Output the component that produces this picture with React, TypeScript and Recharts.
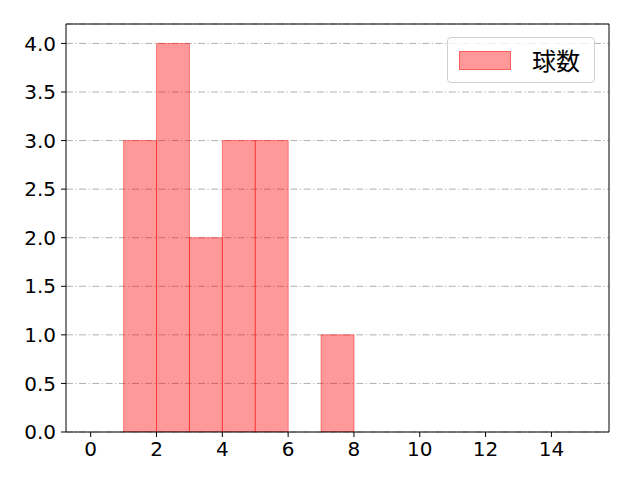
import { ComposedChart, Bar, XAxis, YAxis, CartesianGrid, ReferenceLine } from 'recharts';

const binCenters = [1.5, 2.5, 3.5, 4.5, 5.5, 6.5, 7.5];
const pitchCounts = [3, 4, 2, 3, 3, 0, 1];
const xTicks = [0, 2, 4, 6, 8, 10, 12, 14];
const yTicks = [0, 0.5, 1, 1.5, 2, 2.5, 3, 3.5, 4];
const seriesName = '球数';

const data = binCenters.map((x, i) => ({ x, count: pitchCounts[i] }));

const TICK_FONT = '"DejaVu Sans", sans-serif';
const CJK_FONT = '"Noto Sans CJK JP", sans-serif';
const X_DOMAIN = [-0.75, 15.75];
const Y_DOMAIN = [0, 4.2];

const LegendBox = () => (
  <div
    style={{
      position: 'absolute',
      left: 447,
      top: 37,
      width: 148,
      height: 46,
      border: '1px solid #d0d0d0',
      borderRadius: 4,
      background: 'rgba(255,255,255,0.8)',
      display: 'flex',
      alignItems: 'center',
      boxSizing: 'border-box',
    }}
  >
    <div
      style={{
        width: 52,
        height: 19,
        marginLeft: 11,
        background: 'rgba(255,0,0,0.4)',
        border: '1px solid rgba(255,0,0,0.4)',
        boxSizing: 'border-box',
      }}
    />
    <span style={{ marginLeft: 21, fontSize: 24, lineHeight: '24px', color: '#000', fontFamily: CJK_FONT }}>
      {seriesName}
    </span>
  </div>
);

const App = () => {
  return (
    <div style={{ position: 'absolute', left: 0, top: 0, width: 640, height: 480, background: '#fff' }}>
      <ComposedChart
        width={640}
        height={480}
        data={data}
        margin={{ top: 24, right: 31, left: 0, bottom: 0 }}
        barCategoryGap={0}
        barGap={0}
      >
        <CartesianGrid
          horizontal
          vertical={false}
          stroke="#b0b0b0"
          strokeDasharray="7 2.5 1.2 2.5"
        />
        <XAxis
          dataKey="x"
          type="number"
          domain={X_DOMAIN}
          ticks={xTicks}
          interval={0}
          height={48}
          axisLine={{ stroke: '#000', strokeWidth: 1 }}
          tickLine={{ stroke: '#000' }}
          tickSize={5}
          tick={{ fill: '#000', fontSize: 20, fontFamily: TICK_FONT, dy: 3 }}
          allowDataOverflow
        />
        <YAxis
          type="number"
          domain={Y_DOMAIN}
          ticks={yTicks}
          interval={0}
          width={66}
          axisLine={{ stroke: '#000', strokeWidth: 1 }}
          tickLine={{ stroke: '#000' }}
          tickSize={5}
          tickFormatter={(v: number) => v.toFixed(1)}
          tick={{ fill: '#000', fontSize: 20, fontFamily: TICK_FONT, dx: -3 }}
          allowDataOverflow
        />
        <Bar
          dataKey="count"
          name={seriesName}
          fill="rgba(255,0,0,0.4)"
          stroke="rgba(255,0,0,0.4)"
          strokeWidth={1}
          isAnimationActive={false}
        />
        <ReferenceLine x={X_DOMAIN[1]} stroke="#000" strokeWidth={1} />
        <ReferenceLine y={Y_DOMAIN[1]} stroke="#000" strokeWidth={1} />
      </ComposedChart>
      <LegendBox />
    </div>
  );
};

export default App;
